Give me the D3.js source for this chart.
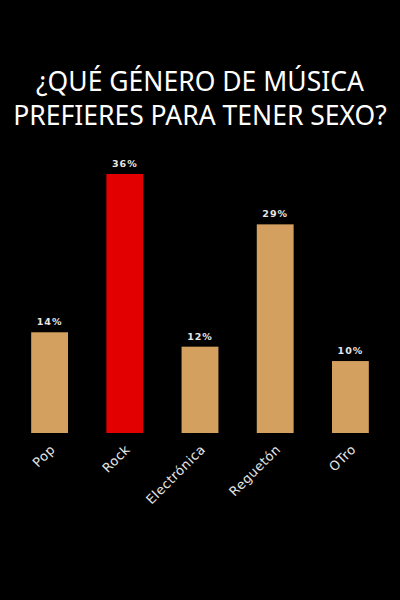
<!DOCTYPE html>
<html>
<head>
<meta charset="utf-8">
<script src="https://cdn.jsdelivr.net/npm/d3@7"></script>
<style>
  body { margin: 0; background: #000; }
  svg { display: block; }
</style>
</head>
<body>
<div id="chart"></div>
<script>
// data
var titleLines = ["¿QUÉ GÉNERO DE MÚSICA", "PREFIERES PARA TENER SEXO?"];
var generos = ["Pop", "Rock", "Electrónica", "Reguetón", "OTro"];
var porcentajes = [14, 36, 12, 29, 10];
var destacado = "Rock";

var width = 400, height = 600;
var margin = { top: 174, bottom: 167, left: 12, right: 12 };

var svg = d3.select("#chart").append("svg")
    .attr("width", width)
    .attr("height", height);

svg.append("rect")
    .attr("width", width)
    .attr("height", height)
    .attr("fill", "#000");

// title
svg.selectAll(".title").data(titleLines).enter()
  .append("text")
    .attr("class", "title")
    .attr("x", width / 2)
    .attr("y", function(d, i) { return 91 + i * 34; })
    .attr("text-anchor", "middle")
    .attr("fill", "#fff")
    .style("font-family", "'Noto Sans', sans-serif")
    .style("font-size", "26.5px")
    .text(function(d) { return d; });

var x = d3.scaleBand()
    .domain(generos)
    .range([margin.left, width - margin.right])
    .paddingInner(0.51)
    .paddingOuter(0.255);

var y = d3.scaleLinear()
    .domain([0, 36])
    .range([height - margin.bottom, margin.top]);

var data = generos.map(function(g, i) { return { genero: g, valor: porcentajes[i] }; });

svg.selectAll(".bar").data(data).enter()
  .append("rect")
    .attr("class", "bar")
    .attr("x", function(d) { return x(d.genero); })
    .attr("y", function(d) { return y(d.valor); })
    .attr("width", x.bandwidth())
    .attr("height", function(d) { return y(0) - y(d.valor); })
    .attr("fill", function(d) { return d.genero === destacado ? "#e30000" : "#d4a060"; });

// value labels
svg.selectAll(".valor").data(data).enter()
  .append("text")
    .attr("class", "valor")
    .attr("x", function(d) { return x(d.genero) + x.bandwidth() / 2; })
    .attr("y", function(d) { return y(d.valor) - 7; })
    .attr("text-anchor", "middle")
    .attr("fill", "#e6e6e6")
    .style("font-family", "'DejaVu Sans', sans-serif")
    .style("font-size", "9.5px")
    .style("font-weight", "bold")
    .style("letter-spacing", "1px")
    .text(function(d) { return d.valor + "%"; });

// category axis, rotated labels
var xAxis = d3.axisBottom(x).tickSize(0).tickPadding(0);
var gx = svg.append("g")
    .attr("transform", "translate(0," + y(0) + ")")
    .call(xAxis);
gx.select(".domain").remove();
gx.selectAll("text")
    .attr("fill", "#e4e4e4")
    .style("font-family", "'DejaVu Sans', sans-serif")
    .style("font-size", "13px")
    .style("letter-spacing", "0.5px")
    .attr("text-anchor", "end")
    .attr("dy", "0.35em")
    .attr("transform", "translate(3,14) rotate(-45)");
</script>
</body>
</html>
